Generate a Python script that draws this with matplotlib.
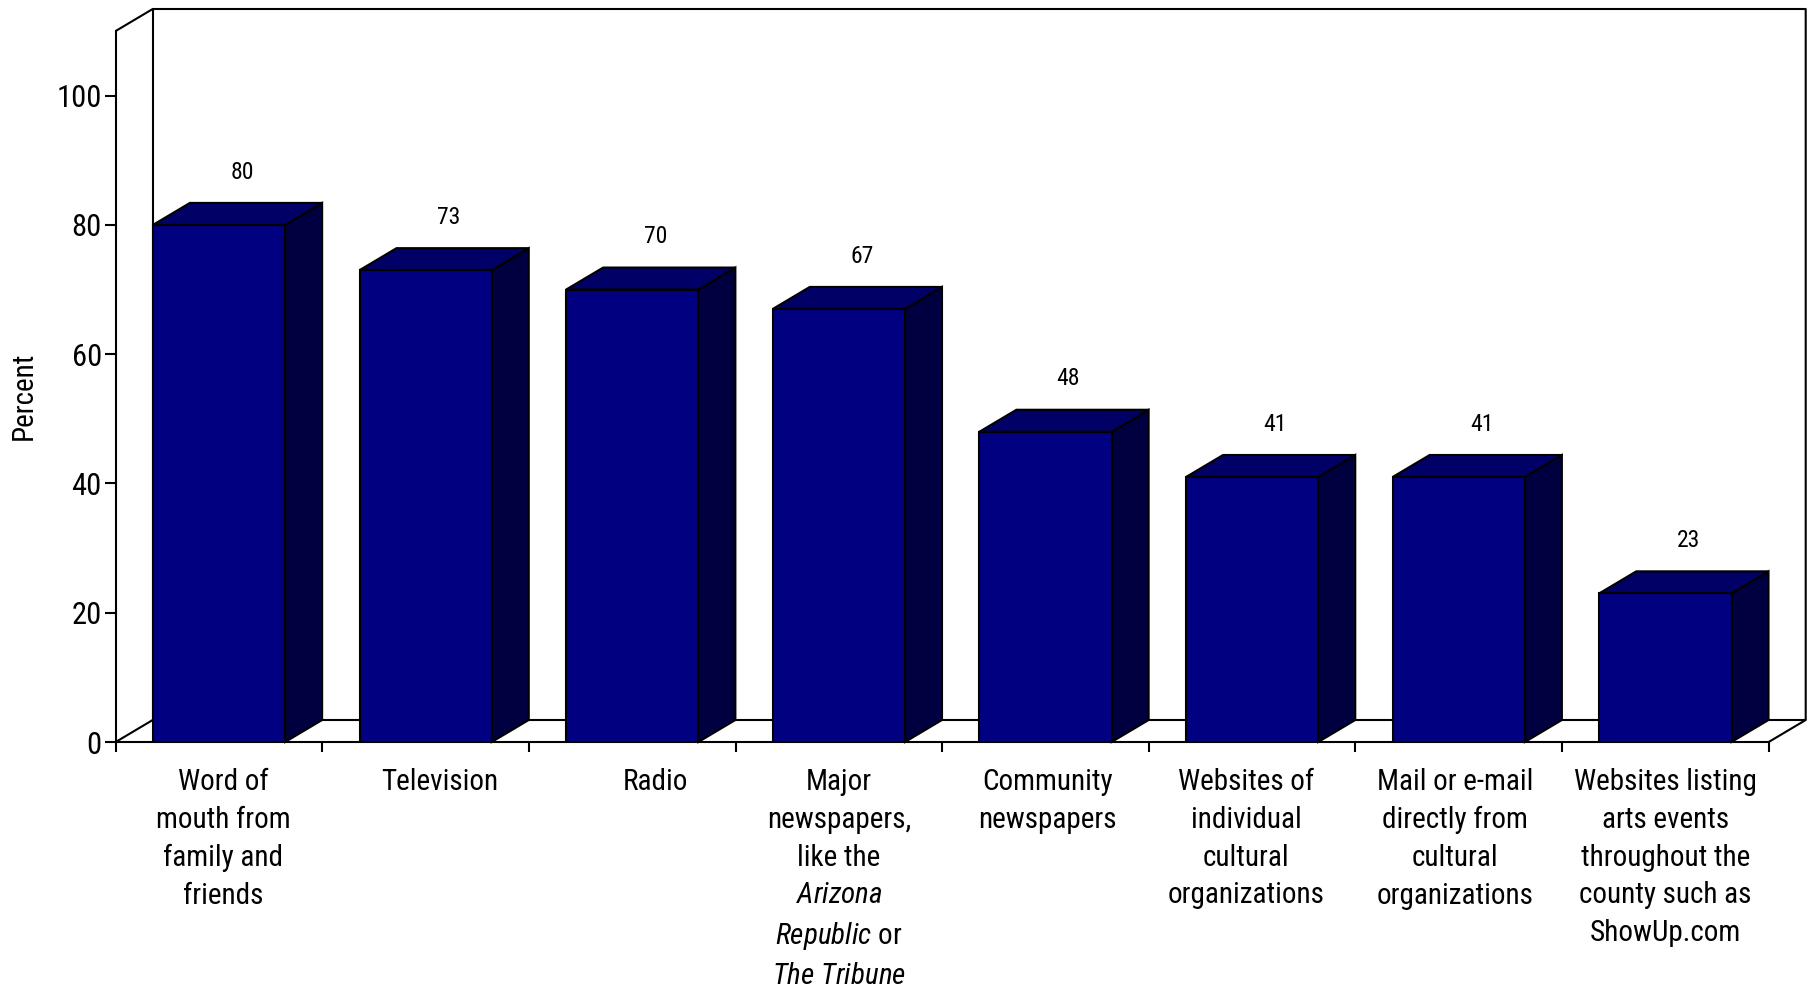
import matplotlib
matplotlib.use("Agg")
import matplotlib.pyplot as plt
from matplotlib.patches import Polygon
from matplotlib.lines import Line2D

plt.rcParams["font.family"] = ["Roboto Condensed", "Liberation Sans", "DejaVu Sans"]
plt.rcParams["mathtext.fontset"] = "custom"
plt.rcParams["mathtext.rm"] = "Roboto Condensed"
plt.rcParams["mathtext.it"] = "Roboto Condensed:italic"

categories = [
    "Word of\nmouth from\nfamily and\nfriends",
    "Television",
    "Radio",
    "Major\nnewspapers,\nlike the\n$\\mathit{Arizona}$\n$\\mathit{Republic}$ or\n$\\mathit{The\\ Tribune}$",
    "Community\nnewspapers",
    "Websites of\nindividual\ncultural\norganizations",
    "Mail or e-mail\ndirectly from\ncultural\norganizations",
    "Websites listing\narts events\nthroughout the\ncounty such as\nShowUp.com",
]
values = [80, 73, 70, 67, 48, 41, 41, 23]
yticks = [0, 20, 40, 60, 80, 100]

# small horizontal nudges (pixels) for the category captions
label_shift = [4, 14, 23, 0, 2, -6, -4, 0]

FRONT = "#000080"
TOP = "#000066"
SIDE = "#000040"

W, H, DPI = 1809, 989, 100
fig = plt.figure(figsize=(W / DPI, H / DPI), dpi=DPI)

# plot area in pixels: front plane of the 3D box
x_left, x_right = 115.7, 1768.7
y_base, y_top = 742.0, 31.0
ymax = 110
ax = fig.add_axes([x_left / W, (H - y_base) / H, (x_right - x_left) / W, (y_base - y_top) / H])
n = len(values)
ax.set_xlim(0, n)
ax.set_ylim(0, ymax)

# depth of the box, converted from pixels to data units
px_per_x = (x_right - x_left) / n
px_per_y = (y_base - y_top) / ymax
dx = 37.0 / px_per_x
dy = 22.0 / px_per_y

lw = 1.5
# back wall and floor outline
wall = dict(color="black", lw=lw, clip_on=False, zorder=1, solid_capstyle="butt")
ax.add_line(Line2D([0, dx, n + dx, n + dx], [ymax, ymax + dy, ymax + dy, dy], **wall))
ax.add_line(Line2D([dx, dx], [dy, ymax + dy], **wall))
ax.add_line(Line2D([0, dx, n + dx, n], [0, dy, dy, 0], **wall))

bar_w = 0.64
for i, v in enumerate(values):
    x0 = i + (1 - bar_w) / 2
    x1 = x0 + bar_w
    front = Polygon([(x0, 0), (x1, 0), (x1, v), (x0, v)], closed=True,
                    fc=FRONT, ec="black", lw=lw, zorder=3)
    top = Polygon([(x0, v), (x0 + dx, v + dy), (x1 + dx, v + dy), (x1, v)], closed=True,
                  fc=TOP, ec="black", lw=lw, zorder=3, clip_on=False)
    side = Polygon([(x1, 0), (x1 + dx, dy), (x1 + dx, v + dy), (x1, v)], closed=True,
                   fc=SIDE, ec="black", lw=lw, zorder=3, clip_on=False)
    for p in (side, top, front):
        ax.add_patch(p)
    ax.text(i + 0.5 + dx * 0.62, v + dy + 3.0, str(v), ha="center", va="bottom",
            fontsize=17, zorder=5)

for s in ("top", "right"):
    ax.spines[s].set_visible(False)
for s in ("left", "bottom"):
    ax.spines[s].set_linewidth(lw)
    ax.spines[s].set_zorder(2)

ax.set_yticks(yticks)
ax.tick_params(axis="y", direction="out", length=8, width=lw, labelsize=22, pad=2)
ax.set_xticks(range(n + 1))
ax.set_xticklabels([])
ax.tick_params(axis="x", which="major", direction="out", length=7.5, width=lw)

# category captions under each bar
for i, (cat, shift) in enumerate(zip(categories, label_shift)):
    ax.annotate(cat, xy=(i + 0.5, 0), xycoords=("data", "axes fraction"),
                xytext=(shift * 0.72, -19), textcoords="offset points",
                ha="center", va="top", multialignment="center",
                fontsize=21, linespacing=1.44, annotation_clip=False)

ax.set_ylabel("Percent", fontsize=21)
ax.yaxis.set_label_coords((38 - x_left) / (x_right - x_left), (y_base - 396) / (y_base - y_top))

fig.savefig("out.png", dpi=DPI)
